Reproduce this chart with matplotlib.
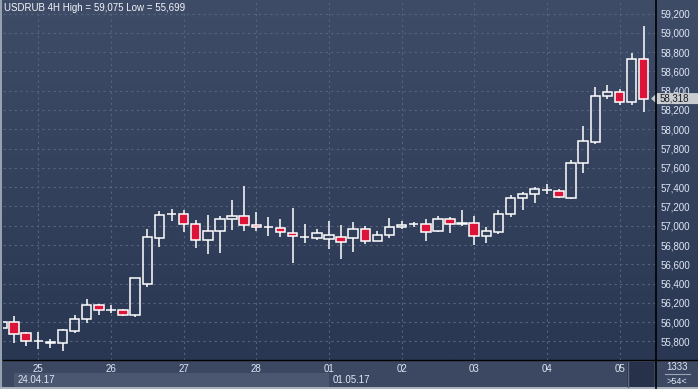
import numpy as np
import pandas as pd
import matplotlib
matplotlib.use('Agg')
import matplotlib.pyplot as plt
from matplotlib.patches import Rectangle, Polygon
from matplotlib.lines import Line2D
from matplotlib.colors import LinearSegmentedColormap
import matplotlib.transforms as mtransforms

# USDRUB 4H candles, 24.04.17 12:00 -> 05.05.17 08:00
opens = [55937, 55999, 55888, 55800, 55788, 55781, 55912, 56036, 56178, 56128,
         56127, 56072, 56393, 56876, 57122, 57119, 57015, 56849, 56942, 57067,
         57098, 57008, 56982, 56973, 56925, 56886, 56876, 56866, 56880, 56876,
         56963, 56845, 56901, 56984, 57013, 57015, 56949, 57067, 57023, 57025,
         56890, 56932, 57118, 57284, 57326, 57366, 57357, 57291, 57654, 57871,
         58342, 58383, 58283, 58725]
highs = [56015, 56064, 55902, 55902, 55826, 55933, 56078, 56241, 56185, 56181,
         56135, 56460, 56963, 57153, 57173, 57163, 57060, 57111, 57101, 57267,
         57412, 57142, 57091, 57070, 57184, 57018, 56963, 57049, 57008, 57039,
         56997, 56942, 57080, 57049, 57036, 57067, 57098, 57087, 57160, 57098,
         56984, 57160, 57315, 57347, 57398, 57430, 57384, 57681, 58034, 58441,
         58459, 58414, 58794, 59075]
lows = [55930, 55788, 55757, 55725, 55736, 55699, 55891, 55995, 56078, 56092,
        56060, 56057, 56368, 56783, 57052, 56938, 56772, 56704, 56714, 56956,
        56945, 56945, 56897, 56886, 56617, 56824, 56852, 56759, 56655, 56731,
        56814, 56840, 56876, 56963, 56990, 56845, 56938, 56928, 56994, 56803,
        56824, 56917, 57094, 57166, 57239, 57332, 57290, 57280, 57550, 57850,
        58317, 58255, 58255, 58182]
closes = [56005, 55875, 55802, 55803, 55791, 55919, 56033, 56178, 56130, 56130,
          56072, 56455, 56880, 57108, 57125, 57015, 56849, 56942, 57067, 57101,
          57004, 56984, 56984, 56932, 56890, 56888, 56922, 56901, 56835, 56963,
          56845, 56904, 56987, 57008, 57016, 56932, 57067, 57015, 57026, 56890,
          56942, 57118, 57284, 57326, 57378, 57369, 57295, 57647, 57875, 58342,
          58383, 58280, 58725, 58318]

times = pd.date_range('2017-04-24 12:00', '2017-05-05 08:00', freq='4h')
times = times[times.dayofweek < 5]

W, H = 698, 389
BG_TOP = '#3f4c68'
BG_BOT = '#2a3753'
RED = '#dc1439'
TXT = '#dfe7f4'

plt.rcParams['font.family'] = ['Liberation Sans', 'DejaVu Sans']

fig = plt.figure(figsize=(W / 100, H / 100), dpi=100)
fig.patch.set_facecolor('#3c4862')


def fx(px):
    return px / W


def fy(py):
    return 1 - py / H


# gradient background of chart + price panel
bg = fig.add_axes([0, fy(360), 1, 360 / H])
grad = LinearSegmentedColormap.from_list('bg', [BG_BOT, BG_TOP])
bg.imshow(np.linspace(0, 1, 256).reshape(-1, 1), aspect='auto', cmap=grad,
          extent=[0, 1, 0, 1], origin='lower')
bg.axis('off')

ax = fig.add_axes([fx(3), fy(360), fx(655) - fx(3), 360 / H])
ax.set_facecolor('none')
x = np.arange(len(times))

for i in range(len(x)):
    o, h, l, c = opens[i], highs[i], lows[i], closes[i]
    lo, hi = min(o, c), max(o, c)
    ax.vlines(x[i], l, lo, color='white', lw=1.1, zorder=3)
    ax.vlines(x[i], hi, h, color='white', lw=1.1, zorder=3)
    ax.bar(x[i], max(hi - lo, 0.5), bottom=lo, width=0.78,
           facecolor=RED if c < o else 'none', edgecolor='white',
           linewidth=1.1, zorder=4)

ax.set_xlim(0.083, 53.93)
ax.set_ylim(55608, 59340)

yt = np.arange(55800, 59201, 200)
ax.set_yticks(yt)
ax.set_yticklabels(['{:,}'.format(v) for v in yt])
day_idx = np.where(times.hour == 0)[0]
ax.set_xticks(x[day_idx])
ax.set_xticklabels([t.strftime('%d') for t in times[day_idx]])
ax.tick_params(axis='y', left=False, right=False, labelleft=False,
               labelright=True, length=0, pad=3.8, labelsize=7, colors=TXT)
ax.tick_params(axis='x', length=0, pad=3.0, labelsize=7, colors=TXT)
for lab in ax.get_yticklabels():
    lab.set_horizontalalignment('left')
ax.grid(True, color='#58647e', linestyle=(0, (2, 3)), linewidth=0.8)
for s in ax.spines.values():
    s.set_visible(False)

fig.text(fx(4), fy(8), 'USDRUB 4H High = {:,} Low = {:,}'.format(max(highs), min(lows)),
         color='#f2f4f8', fontsize=7, va='center', ha='left')

# separators
fig.add_artist(Line2D([fx(656), fx(656)], [0, 1], color='black', lw=1.2))
fig.add_artist(Line2D([fx(3), 1], [fy(360), fy(360)], color='black', lw=1.0))

# date strip
fig.add_artist(Rectangle((fx(14), fy(387)), fx(329) - fx(14), (387 - 373) / H,
                         facecolor='#4b5770', edgecolor='none'))
fig.text(fx(18), fy(380), times[0].strftime('%d.%m.%y'), color=TXT, fontsize=7,
         va='center', ha='left')
mon = times[times.dayofweek == 0][-1]
fig.text(fx(333), fy(380), mon.strftime('%d.%m.%y'), color=TXT, fontsize=7,
         va='center', ha='left')

# scroll box
fig.add_artist(Rectangle((fx(627), fy(387)), fx(654) - fx(627), (387 - 362) / H,
                         facecolor='#27324a', edgecolor='none'))
fig.add_artist(Line2D([fx(627.5), fx(627.5)], [fy(387), fy(362)], color='#5f6a82', lw=1))

fig.text(fx(677), fy(367), '1333', color=TXT, fontsize=7, va='center', ha='center')
fig.add_artist(Line2D([fx(665), fx(690)], [fy(374), fy(374)], color='#9aa4b4', lw=0.8))
fig.text(fx(677), fy(381), '>54<', color=TXT, fontsize=6.5, va='center', ha='center')

# outer frame
fig.add_artist(Rectangle((0, 0), fx(2), 1, facecolor='#97a1b0', edgecolor='none'))
fig.add_artist(Rectangle((0, 0), 1, 2 / H, facecolor='#a9b1bd', edgecolor='none'))

# last price tag
tr = mtransforms.blended_transform_factory(fig.transFigure, ax.transData)
last = closes[-1]
dy = 5.5 * 10.366
tag = Polygon([(fx(651), last), (fx(657), last + dy), (1, last + dy),
               (1, last - dy), (fx(657), last - dy)], closed=True,
              transform=tr, facecolor='#c9cdd2', edgecolor='none', clip_on=False)
fig.add_artist(tag)
fig.text(fx(660), last, '{:,}'.format(last), transform=tr, color='#1a1a1a',
         fontsize=7, va='center', ha='left')

fig.savefig('out.png', dpi=100, facecolor=fig.get_facecolor())
